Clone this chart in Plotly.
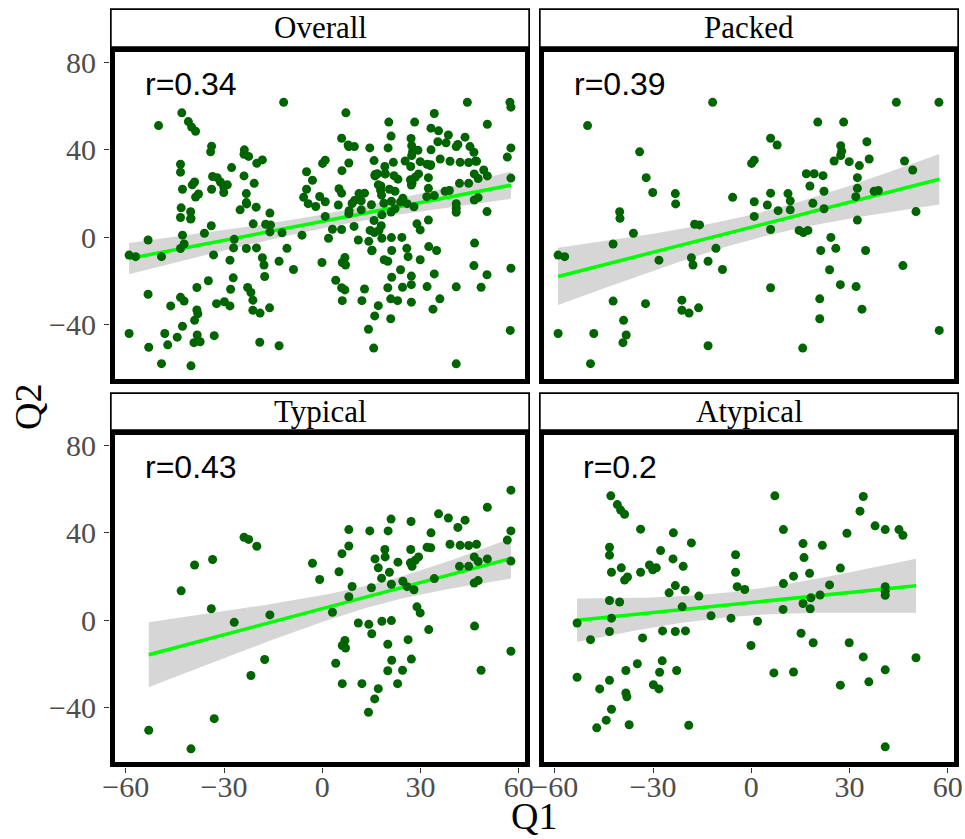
import numpy as np
import plotly.graph_objects as go

# ---------------- data ----------------
panel_names = ["Overall", "Packed", "Typical", "Atypical"]
r_labels = ["r=0.34", "r=0.39", "r=0.43", "r=0.2"]

packed_q1 = [-11.8, -50.0, -34.1, -32.1, -30.1, -23.2, -23.1, -5.7, -40.2, -40.1,
             -36.0, -42.2, -59.0, -57.0, -17.3, -15.8, -28.2, -18.3, -17.8, -13.2,
             -10.8, -8.8, -42.2, -32.3, -21.2, -21.2, -19.0, -16.1, -39.0, -38.2,
             -39.2, -59.0, -48.1, -49.1, -13.2,
             44.3, 57.3, 20.3, 28.2, 5.9, 7.9, 0.1, 0.9, 27.3, 27.6,
             27.3, 25.3, 29.9, 35.3, 36.0, 33.0, 46.8, 49.3, 16.8, 19.2,
             21.9, 32.4, 17.9, 22.2, 32.4, 31.9, 37.5, 38.8, 5.9, 0.9,
             4.9, 11.2, 11.9, 11.9, 8.2, 18.8, 22.2, 0.9, 50.3, 5.9,
             14.6, 15.9, 17.3, 32.4, 24.3, 21.2, 25.8, 34.9, 23.9, 46.3,
             5.9, 27.2, 32.0, 20.9, 20.9, 33.8, 15.7, 57.4]
packed_q2 = [61.7, 51.1, 39.1, 27.3, 20.5, 20.0, 15.3, 18.3, 11.7, 8.7,
             1.9, -3.0, -8.1, -8.8, 6.0, 5.7, -10.4, -9.3, -12.6, -10.9,
             -5.0, -14.7, -29.1, -30.3, -28.7, -33.3, -34.6, -32.2, -37.9, -44.6,
             -48.1, -43.9, -43.9, -57.7, -49.5,
             61.7, 61.7, 52.7, 52.7, 45.3, 42.2, 33.8, 35.3, 41.9, 39.4,
             37.4, 34.9, 34.6, 43.7, 35.8, 32.8, 34.9, 30.8, 29.1, 29.1,
             28.2, 27.3, 23.5, 21.1, 22.4, 18.6, 21.1, 21.4, 20.2, 16.3,
             14.8, 20.0, 16.7, 12.6, 12.2, 15.6, 13.1, 9.6, 11.8, 3.6,
             3.2, 2.2, 3.2, 7.9, 0.0, -6.0, -5.0, -6.0, -14.8, -12.9,
             -23.0, -21.6, -22.5, -28.1, -37.2, -32.8, -50.6, -42.5]

typical_q1 = [-23.9, -22.5, -20.0, -39.0, -33.5, -43.1, -33.9, -26.9, -16.0, -3.0,
              -17.6, -21.8, -33.0, -53.0, -40.1,
              57.6, 50.4, 57.6, 56.5, 57.6, 50.4, 35.5, 38.5, 43.6, 41.4,
              33.2, 39.0, 42.1, 44.7, 47.1, 32.0, 33.1, 46.4, 47.6, 41.9,
              44.7, 46.4, 47.6, 34.2, 46.5, 57.6, 48.5, 8.1, 8.1, 6.0,
              14.5, 21.0, 20.1, 27.1, 19.1, 19.2, 16.1, 27.0, 23.1, 29.4,
              28.4, 26.9, 27.4, 17.1, 20.5, 18.1, 21.1, 24.6, 25.9, 28.0,
              5.1, -0.8,
              9.1, 8.1, 15.0, 3.1, 28.9, 29.9, 11.0,
              14.2, 15.1, 18.2, 21.1, 32.5, 6.9, 6.1, 7.1, 20.0, 26.2,
              4.1, 21.2, 27.2, 20.0, 24.5, 6.1, 12.1, 23.0, 17.1, 16.0, 14.1]
typical_q2 = [38.0, 37.0, 33.9, 25.3, 27.8, 13.5, 5.3, -0.9, 2.5, 26.1,
              -17.9, -25.2, -44.9, -50.2, -58.7,
              59.5, 51.7, 40.9, 36.7, 27.1, 28.1, 48.7, 46.8, 45.8, 42.5,
              40.0, 34.8, 34.3, 34.2, 34.8, 33.4, 33.2, 29.0, 26.9, 24.7,
              24.7, 17.1, 18.2, 19.1, -2.6, -14.1, -22.8, 41.5, 34.0, 30.5,
              40.9, 46.3, 40.9, 45.2, 32.4, 29.0, 28.1, 32.4, 26.6, 29.0,
              27.5, 26.3, 24.7, 24.0, 22.0, 19.3, 16.5, 17.9, 15.4, 14.0,
              22.2, 18.7,
              15.5, 10.8, 14.9, 3.7, 6.2, 3.4, -1.2,
              -1.8, -6.1, -0.4, -0.1, -4.2, -9.2, -11.5, -12.6, -10.9, -8.8,
              -19.6, -18.2, -17.7, -23.0, -22.8, -28.9, -28.9, -28.9, -31.2, -35.9, -42.0]

atypical_q1 = [-42.9, -40.9, -39.9, -38.7, -33.8, -23.8, -18.3, -43.3, -43.3, -27.7,
               -23.9, -20.8, -4.8, -4.8, -4.3, -2.0, -42.7, -39.7, -38.7, -37.8,
               -33.8, -31.1, -30.1, -29.0, -25.1, -23.2, -20.2, -16.0, -43.3, -40.2,
               -21.1, -12.3, -6.2, -53.2, -42.7, -43.3, -49.1, -33.2, -27.1, -23.2, -20.1,
               -53.2, -34.8, -38.3, -27.2, -28.0, -22.8, -29.9, -28.2, -46.3, -43.3,
               -38.3, -38.0, -42.7, -44.3, -47.2, -37.3, -19.1,
               7.2, 34.2, 33.2, 37.8, 40.9, 45.1, 46.3, 9.8, 29.2, 15.8,
               21.7, 16.1, 27.2, 17.8, 12.9, 9.8, 23.9,
               21.0, 18.2, 15.8, 18.0, 9.7, 40.9, 40.9, 40.9, 1.9, -0.1, 15.2,
               18.9, 29.9, 34.2, 50.3, 6.9, 12.9, 40.9, 27.2, 35.9, 40.9]
atypical_q2 = [56.9, 52.9, 50.4, 48.5, 41.7, 40.0, 35.4, 33.4, 29.8, 31.9,
               28.1, 24.7, 30.0, 22.0, 15.4, 14.1, 22.0, 24.0, 18.4, 19.8,
               22.0, 25.3, 23.1, 24.0, 12.6, 15.9, 13.8, 11.1, 9.1, 8.4,
               6.2, 2.1, 1.0, -1.2, 1.0, -5.1, -8.8, -8.0, -4.8, -5.1, -4.8,
               -26.0, -19.8, -22.9, -18.5, -23.7, -22.9, -29.4, -31.3, -31.3, -27.4,
               -33.2, -34.9, -40.6, -45.6, -49.1, -47.7, -47.9,
               56.9, 56.6, 49.9, 43.2, 41.5, 41.5, 38.9, 41.5, 39.8, 35.1,
               34.3, 28.7, 23.9, 21.5, 20.2, 16.8, 16.2,
               11.6, 10.3, 7.7, 5.3, 5.0, 15.4, 13.3, 11.5, -0.4, -11.5, -5.9,
               -10.2, -10.2, -16.7, -17.1, -24.0, -23.6, -22.6, -29.6, -28.1, -57.8]

# "Overall" panel = all groups together
overall_q1 = packed_q1 + typical_q1 + atypical_q1
overall_q2 = packed_q2 + typical_q2 + atypical_q2

x_tickvals = [-60, -30, 0, 30, 60]
x_ticktext = ["\u221260", "\u221230", "0", "30", "60"]
y_tickvals = [-40, 0, 40, 80]
y_ticktext = ["\u221240", "0", "40", "80"]

panels_x = [overall_q1, packed_q1, typical_q1, atypical_q1]
panels_y = [overall_q2, packed_q2, typical_q2, atypical_q2]

# ---------------- helpers ----------------
W, H = 965, 839


def fx(p):
    return p / W


def fy(p):
    return 1 - p / H


def lm_band(x, y, n_grid=80):
    x = np.asarray(x, float)
    y = np.asarray(y, float)
    n = len(x)
    xm, ym = x.mean(), y.mean()
    sxx = ((x - xm) ** 2).sum()
    b = ((x - xm) * (y - ym)).sum() / sxx
    a = ym - b * xm
    s = np.sqrt(((y - (a + b * x)) ** 2).sum() / (n - 2))
    xg = np.linspace(x.min(), x.max(), n_grid)
    yg = a + b * xg
    se = s * np.sqrt(1.0 / n + (xg - xm) ** 2 / sxx)
    df = n - 2
    z = 1.959963985
    t = z + (z ** 3 + z) / (4 * df) + (5 * z ** 5 + 16 * z ** 3 + 3 * z) / (96 * df ** 2)
    return xg, yg, yg - t * se, yg + t * se


cols = [(110, 530), (539, 959)]
rows = [(47, 384), (430, 767)]
strips = [(8.3, 47), (392.3, 430)]
XR = [-64.83, 63.43]
YR = [-67, 87]

SERIF = "Liberation Serif, Times New Roman, serif"
SANS = "Liberation Sans, Arial, sans-serif"

fig = go.Figure()
layout = dict(
    width=W, height=H, margin=dict(l=0, r=0, t=0, b=0, pad=0, autoexpand=False),
    paper_bgcolor="white", plot_bgcolor="white", showlegend=False,
)
shapes = []
annotations = []

for i in range(4):
    r, c = divmod(i, 2)
    xa = "x" if i == 0 else f"x{i+1}"
    ya = "y" if i == 0 else f"y{i+1}"
    xg, yg, lo, hi = lm_band(panels_x[i], panels_y[i])
    fig.add_trace(go.Scatter(
        x=np.concatenate([xg, xg[::-1]]), y=np.concatenate([hi, lo[::-1]]),
        fill="toself", fillcolor="rgba(153,153,153,0.4)", line=dict(width=0),
        mode="lines", hoverinfo="skip", xaxis=xa, yaxis=ya))
    fig.add_trace(go.Scatter(
        x=xg, y=yg, mode="lines", line=dict(color="#00FF00", width=3.5),
        hoverinfo="skip", xaxis=xa, yaxis=ya))
    fig.add_trace(go.Scatter(
        x=panels_x[i], y=panels_y[i], mode="markers",
        marker=dict(color="#006400", size=9, line=dict(width=0)),
        xaxis=xa, yaxis=ya))

    xkey = "xaxis" if i == 0 else f"xaxis{i+1}"
    ykey = "yaxis" if i == 0 else f"yaxis{i+1}"
    layout[xkey] = dict(
        domain=[fx(cols[c][0]), fx(cols[c][1])], range=XR, anchor=ya,
        automargin=False,
        showgrid=False, zeroline=False, showline=False,
        tickmode="array", tickvals=x_tickvals, ticktext=x_ticktext,
        ticks="outside" if r == 1 else "", showticklabels=(r == 1),
        ticklen=5, tickwidth=1.3, tickcolor="#333333",
        ticklabelstandoff=-12,
        tickfont=dict(family=SERIF, size=30, color="#4D4D4D"),
        fixedrange=True)
    layout[ykey] = dict(
        domain=[fy(rows[r][1]), fy(rows[r][0])], range=YR, anchor=xa,
        automargin=False,
        showgrid=False, zeroline=False, showline=False,
        tickmode="array", tickvals=y_tickvals, ticktext=y_ticktext,
        ticks="outside" if c == 0 else "", showticklabels=(c == 0),
        ticklen=5, tickwidth=1.3, tickcolor="#333333",
        ticklabelstandoff=2,
        tickfont=dict(family=SERIF, size=30, color="#4D4D4D"),
        fixedrange=True)

    # strip box
    shapes.append(dict(type="rect", xref="paper", yref="paper",
                       x0=fx(cols[c][0] + 0.85), x1=fx(cols[c][1] - 0.85),
                       y0=fy(strips[r][1]), y1=fy(strips[r][0] + 0.85),
                       line=dict(color="black", width=1.7), fillcolor="white"))
    # panel border
    shapes.append(dict(type="rect", xref="paper", yref="paper",
                       x0=fx(cols[c][0] + 2.5), x1=fx(cols[c][1] - 2.5),
                       y0=fy(rows[r][1] - 2.5), y1=fy(rows[r][0] + 2.5),
                       line=dict(color="black", width=5)))
    annotations.append(dict(
        text=panel_names[i], xref="paper", yref="paper",
        x=fx((cols[c][0] + cols[c][1]) / 2), y=fy((strips[r][0] + strips[r][1]) / 2),
        xanchor="center", yanchor="middle", showarrow=False,
        font=dict(family=SERIF, size=31, color="black")))
    annotations.append(dict(
        text=r_labels[i], xref=xa, yref=ya, x=-40, y=70,
        xanchor="center", yanchor="middle", showarrow=False,
        font=dict(family=SANS, size=32, color="black")))

annotations.append(dict(text="Q1", xref="paper", yref="paper",
                        x=fx(534), y=0, xanchor="center", yanchor="bottom",
                        showarrow=False, font=dict(family=SERIF, size=38, color="black")))
annotations.append(dict(text="Q2", xref="paper", yref="paper",
                        x=fx(28), y=fy(407), xanchor="center", yanchor="middle",
                        textangle=-90, showarrow=False,
                        font=dict(family=SERIF, size=38, color="black")))

layout["shapes"] = shapes
layout["annotations"] = annotations
fig.update_layout(**layout)
fig.write_html("out.html")
